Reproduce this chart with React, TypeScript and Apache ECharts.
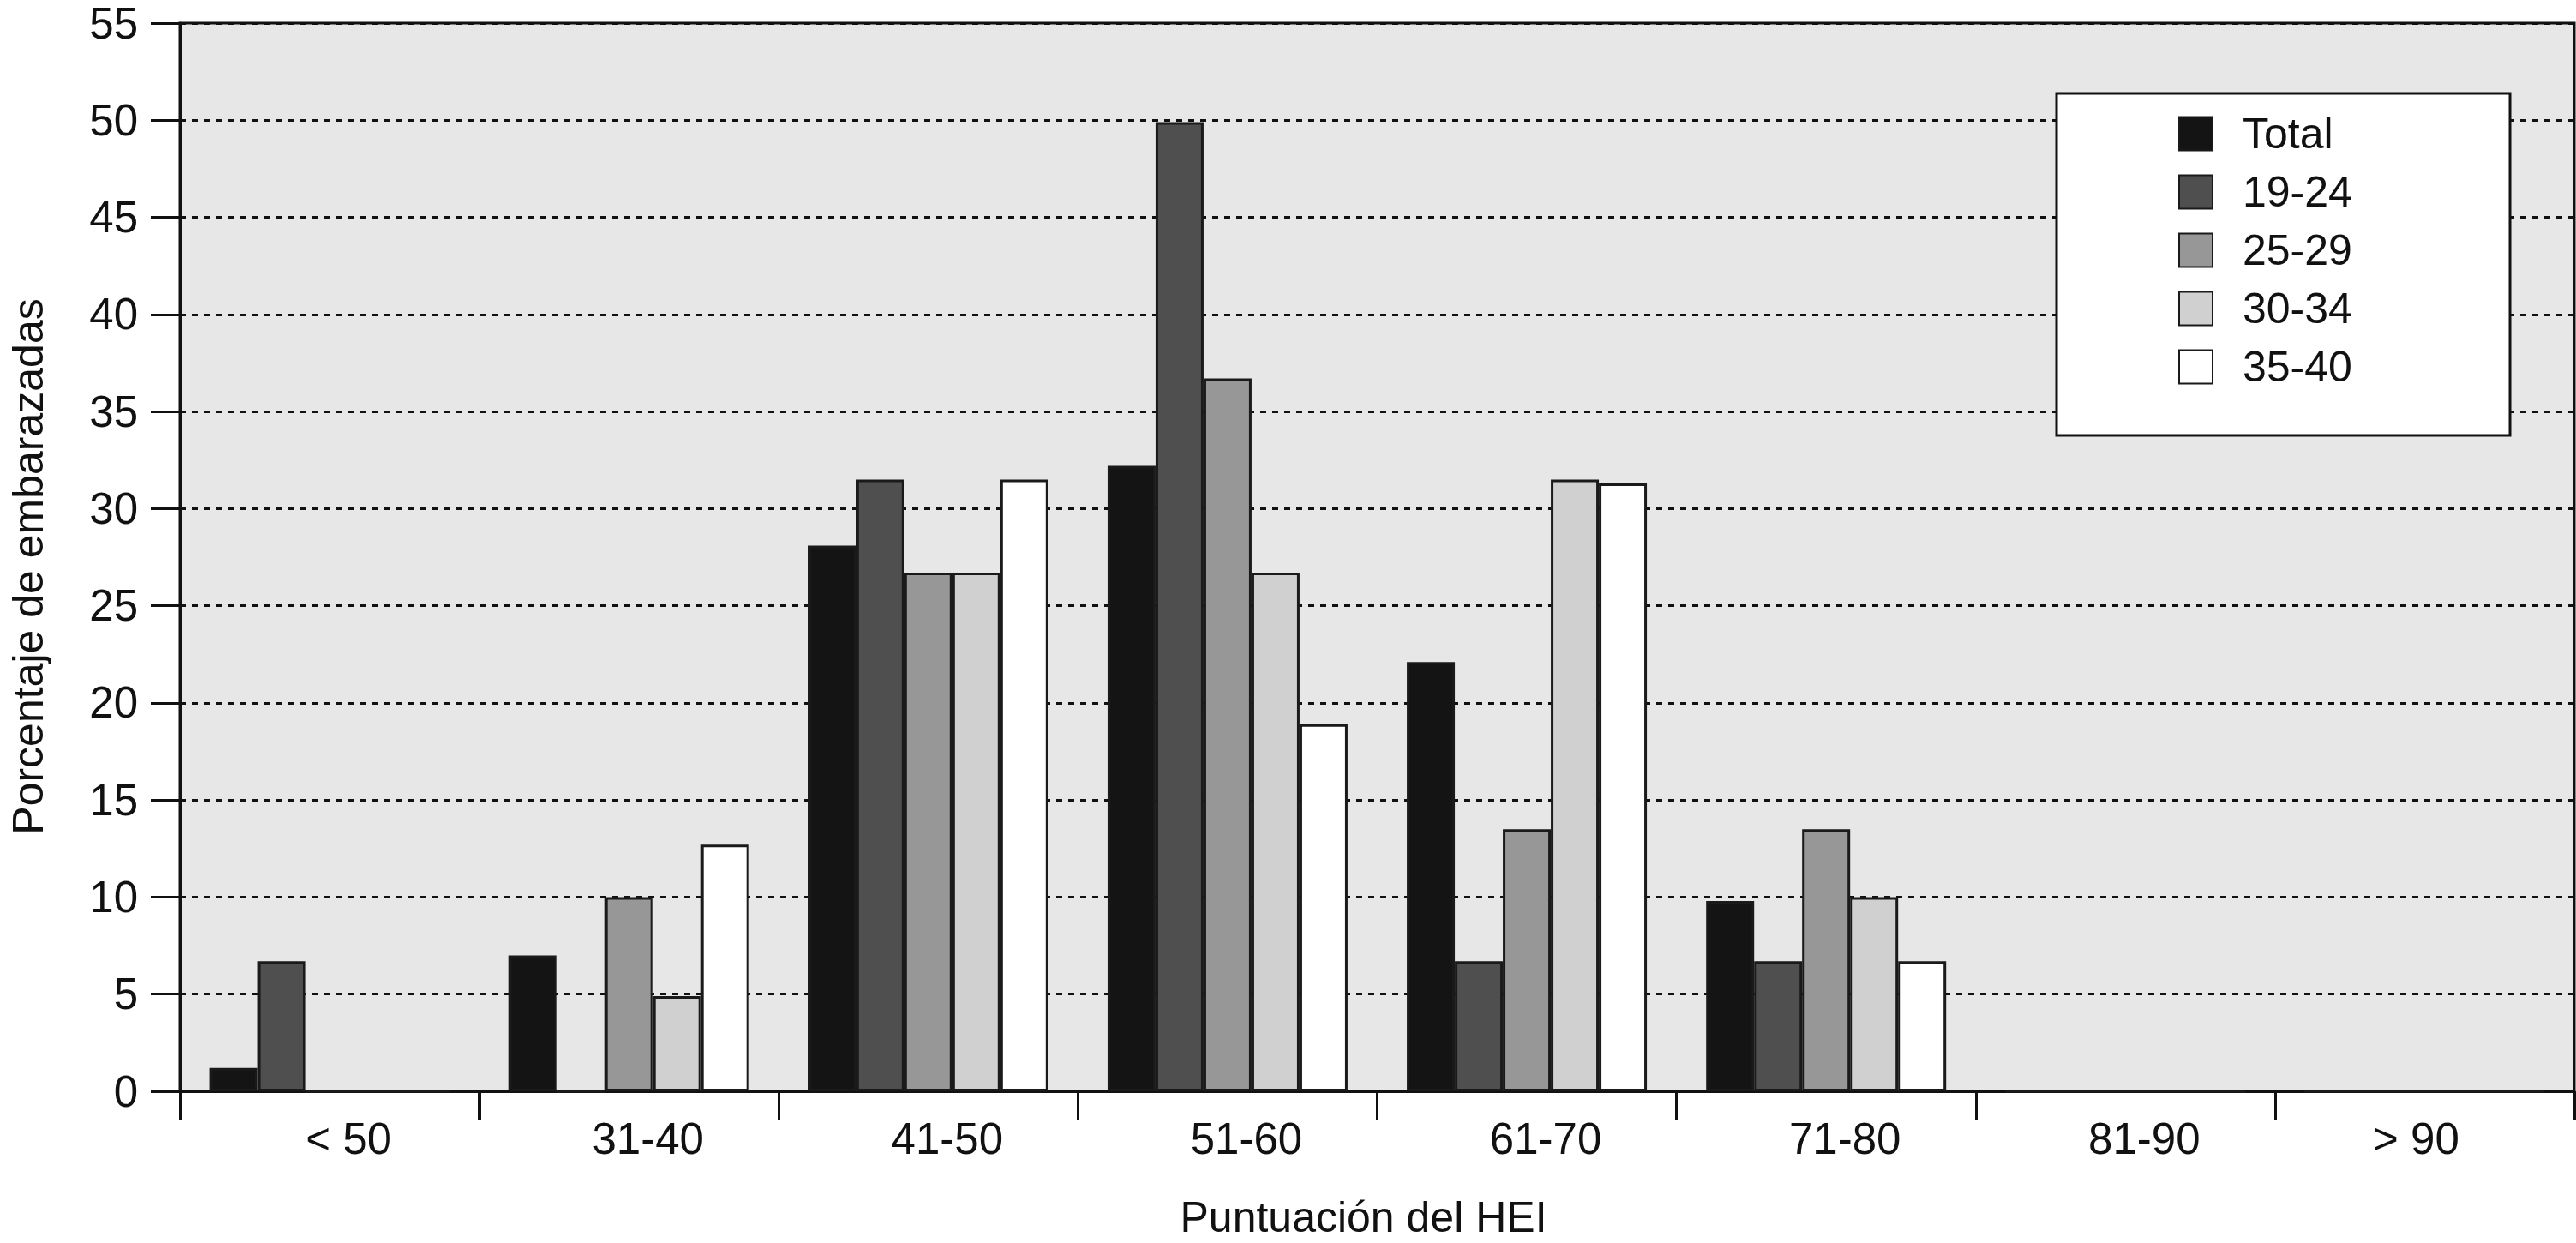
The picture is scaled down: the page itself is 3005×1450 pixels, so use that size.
import React, { useEffect, useRef } from "react";
import * as echarts from "echarts";

const categories = ["< 50", "31-40", "41-50", "51-60", "61-70", "71-80", "81-90", "> 90"];
const seriesNames = ["Total", "19-24", "25-29", "30-34", "35-40"];
const seriesColors = ["#141414", "#4f4f4f", "#979797", "#d0d0d0", "#ffffff"];
const total = [1.2, 7.0, 28.1, 32.2, 22.1, 9.8, 0, 0];
const age19_24 = [6.7, 0, 31.5, 49.9, 6.7, 6.7, 0, 0];
const age25_29 = [0, 10.0, 26.7, 36.7, 13.5, 13.5, 0, 0];
const age30_34 = [0, 4.9, 26.7, 26.7, 31.5, 10.0, 0, 0];
const age35_40 = [0, 12.7, 31.5, 18.9, 31.3, 6.7, 0, 0];
const seriesValues = [total, age19_24, age25_29, age30_34, age35_40];

const FONT = "'Liberation Sans', Arial, Helvetica, sans-serif";
const INK = "#111111";

export default function App() {
  const ref = useRef<HTMLDivElement>(null);
  useEffect(() => {
    if (!ref.current) return;
    const chart = echarts.init(ref.current, null, { renderer: "svg" });
    chart.setOption({
      animation: false,
      backgroundColor: "#ffffff",
      textStyle: { fontFamily: FONT, color: INK },
      grid: {
        left: 202,
        right: 2,
        top: 27,
        bottom: 176,
        containLabel: false,
        show: true,
        backgroundColor: "#e7e7e7",
        borderColor: INK,
        borderWidth: 3,
      },
      legend: {
        orient: "vertical",
        left: 2541,
        top: 131,
        icon: "rect",
        itemWidth: 39,
        itemHeight: 39,
        itemGap: 18,
        padding: 0,
        z: 10,
        data: seriesNames,
        textStyle: { fontFamily: FONT, fontSize: 50, color: INK, lineHeight: 50, padding: [0, 0, 0, 30] },
      },
      graphic: [
        {
          type: "rect",
          z: 5,
          shape: { x: 2399, y: 109, width: 529, height: 399 },
          style: { fill: "#ffffff", stroke: INK, lineWidth: 3 },
        },
      ],
      xAxis: {
        type: "category",
        data: categories.map((c, i) => ({
          value: c,
          textStyle: { padding: i === categories.length - 1 ? [0, 20, 0, 0] : [0, 0, 0, 44] },
        })),
        name: "Puntuación del HEI",
        nameLocation: "middle",
        nameGap: 122,
        nameTextStyle: { fontFamily: FONT, fontSize: 50, color: INK, padding: [0, 32, 0, 0] },
        axisLine: { show: true, lineStyle: { color: INK, width: 3 } },
        axisTick: { show: true, alignWithLabel: false, length: 34, lineStyle: { color: INK, width: 3 } },
        axisLabel: { margin: 30, fontFamily: FONT, fontSize: 51, color: INK, interval: 0 },
        splitLine: { show: false },
      },
      yAxis: {
        type: "value",
        min: 0,
        max: 55,
        interval: 5,
        name: "Porcentaje de embarazadas",
        nameLocation: "middle",
        nameGap: 152,
        nameRotate: 90,
        nameTextStyle: { fontFamily: FONT, fontSize: 50, color: INK, padding: [0, 22, 0, 0] },
        axisLine: { show: true, lineStyle: { color: INK, width: 3 } },
        axisTick: { show: true, inside: false, length: 34, lineStyle: { color: INK, width: 3 } },
        axisLabel: { margin: 49, fontFamily: FONT, fontSize: 51, color: INK },
        splitLine: { show: true, lineStyle: { color: INK, width: 3, type: [7, 7] } },
      },
      series: seriesNames.map((name, i) => ({
        name,
        type: "bar",
        data: seriesValues[i],
        barWidth: 56,
        barGap: "0%",
        itemStyle: { color: seriesColors[i], borderColor: "#1a1a1a", borderWidth: 3 },
      })),
    });
    return () => chart.dispose();
  }, []);
  return (
    <div
      ref={ref}
      style={{ position: "absolute", left: 0, top: 0, width: 3005, height: 1450 }}
    />
  );
}
